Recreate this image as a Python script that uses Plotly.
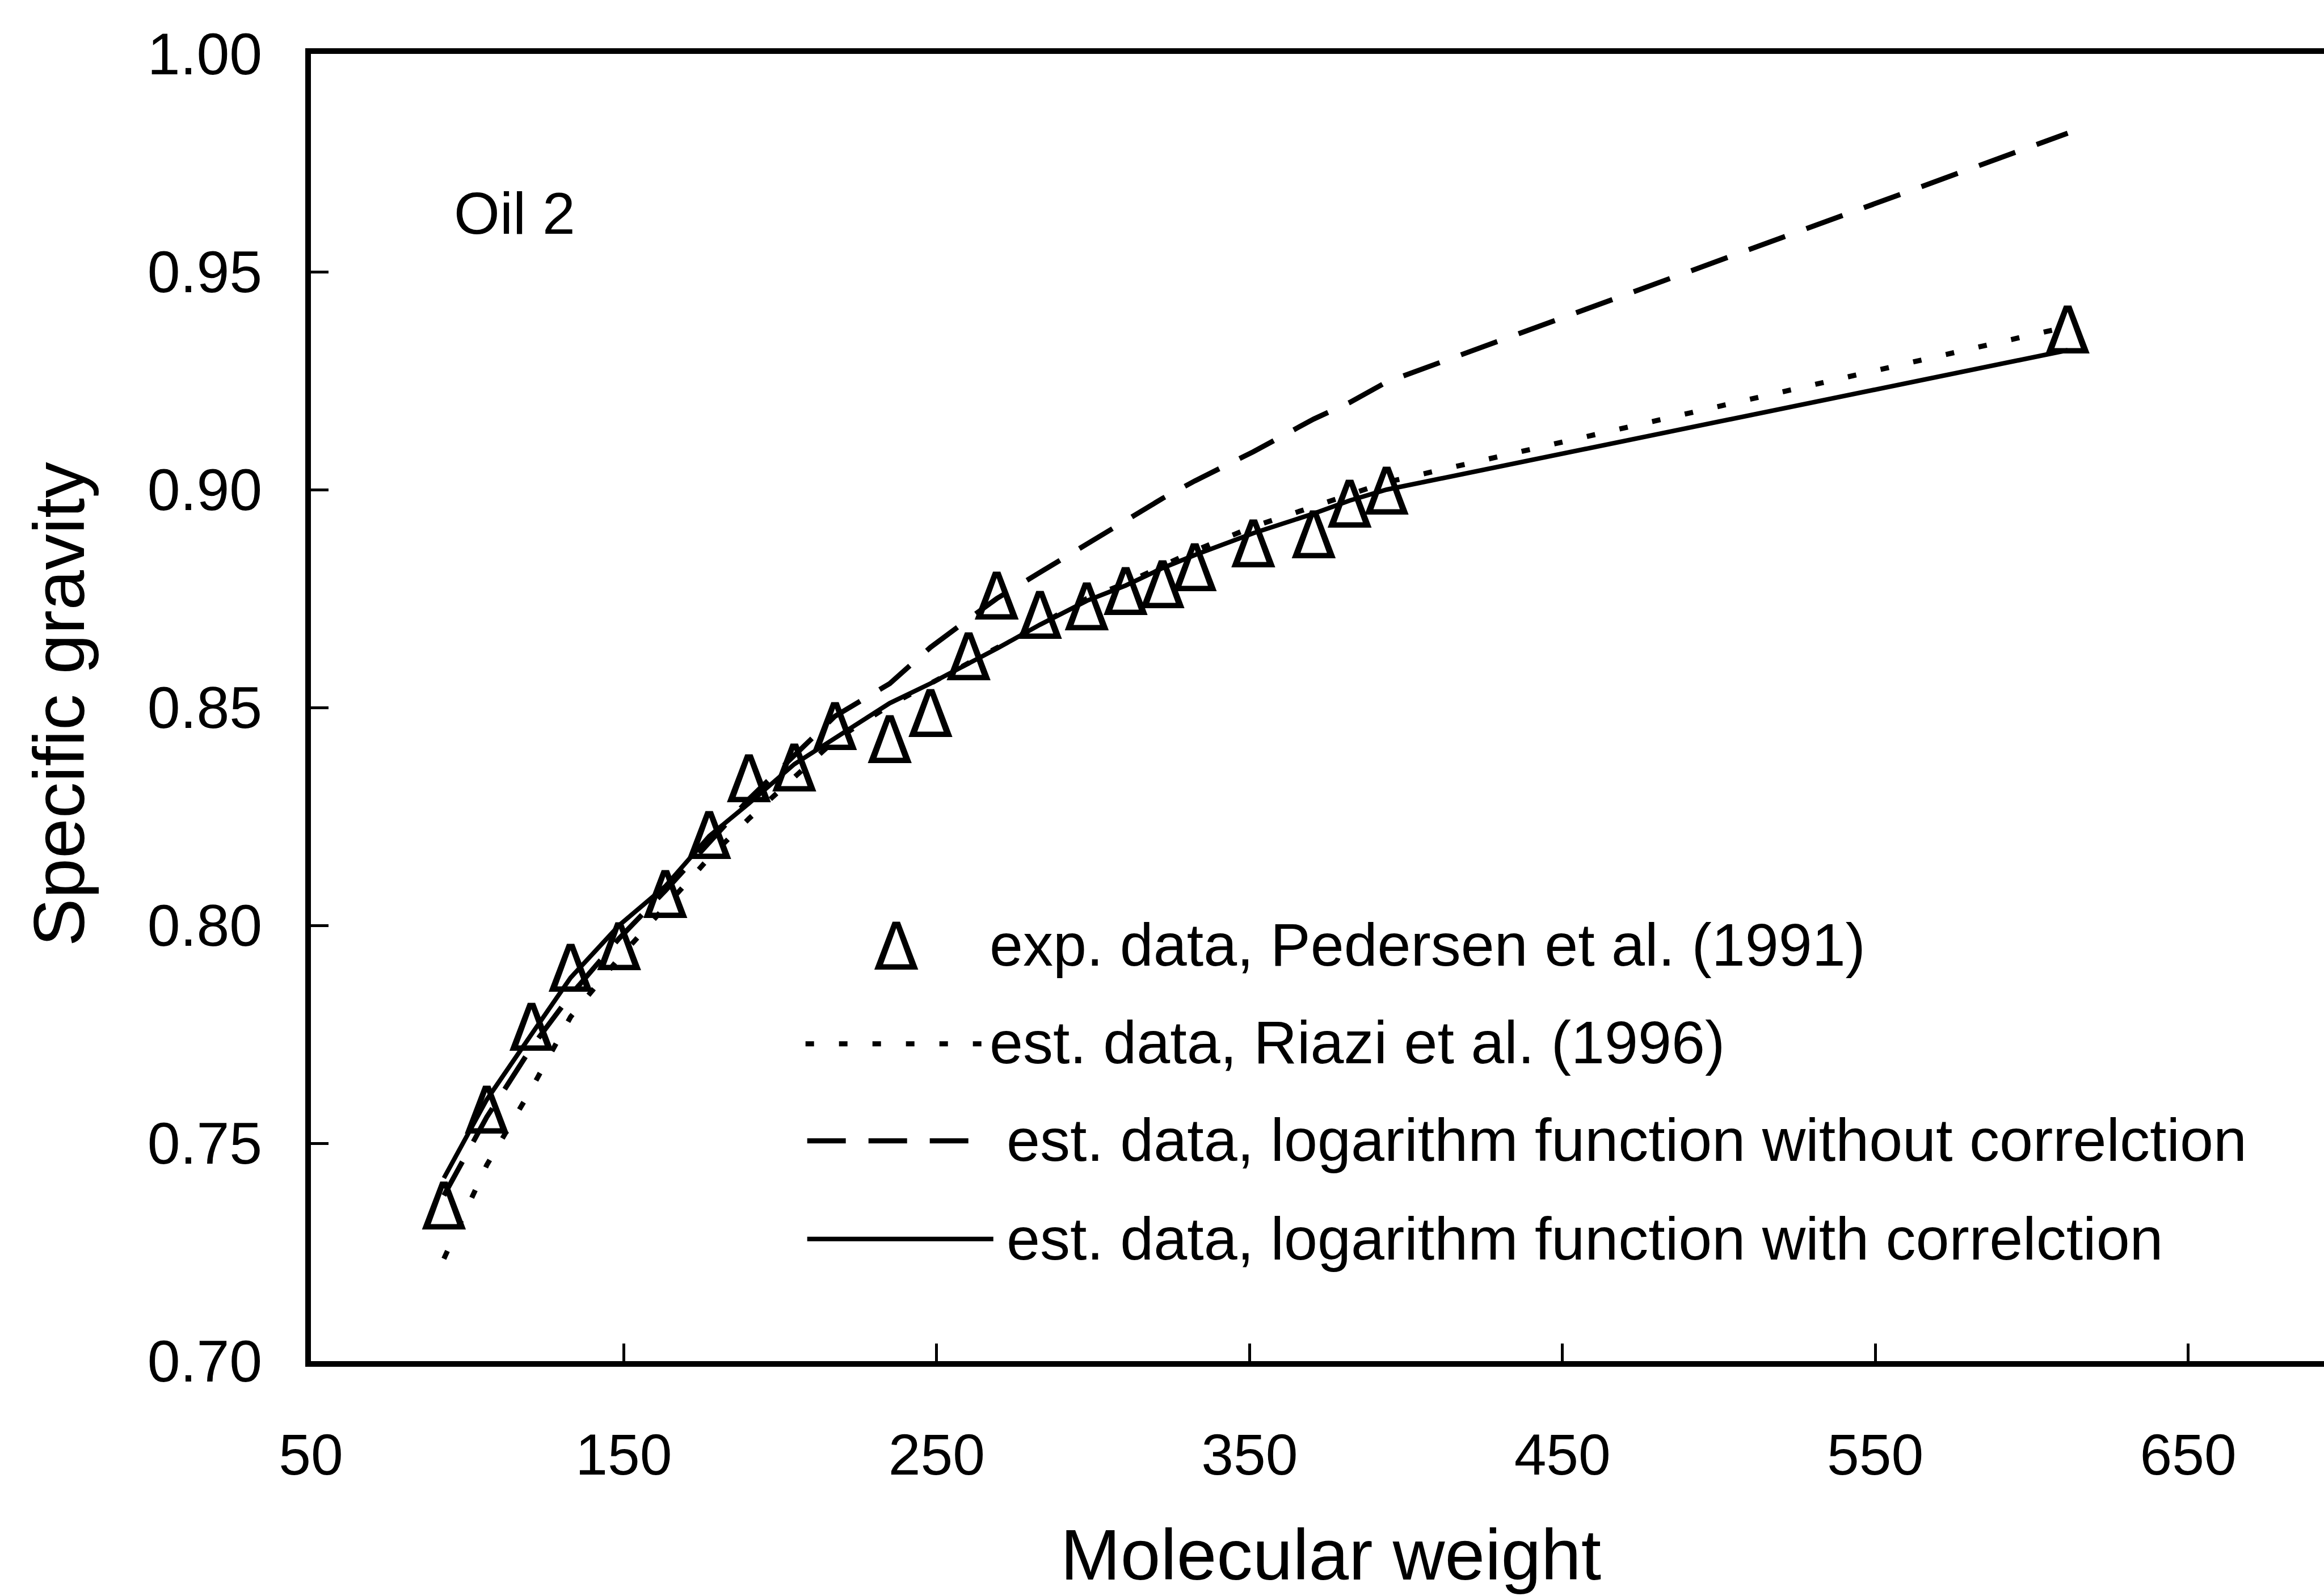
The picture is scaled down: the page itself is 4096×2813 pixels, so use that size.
import plotly.graph_objects as go

# ---------------- data ----------------
mol_weight = [92.5, 106.2, 120.5, 133.0, 148.5, 163.3, 177.3, 190.0, 204.5, 217.5,
              235.0, 248.0, 260.2, 269.2, 283.0, 298.0, 310.4, 322.2, 332.5, 351.2,
              370.5, 382.0, 393.8, 611.5]

sg_exp = [0.734, 0.756, 0.775, 0.7885, 0.7935, 0.8055, 0.819, 0.832, 0.8345, 0.844,
          0.841, 0.847, 0.860, 0.874, 0.8695, 0.8715, 0.875, 0.8765, 0.8805, 0.886,
          0.888, 0.895, 0.898, 0.935]

sg_riazi = [0.7235, 0.745, 0.7625, 0.779, 0.7925, 0.8045, 0.8155, 0.8245, 0.834, 0.8425,
            0.8505, 0.8555, 0.860, 0.8635, 0.869, 0.875, 0.8785, 0.8825, 0.886, 0.8915,
            0.8962, 0.899, 0.9017, 0.9374]

sg_log_no_corr = [0.738, 0.756, 0.772, 0.784, 0.797, 0.808, 0.819, 0.829, 0.839, 0.848,
                  0.8555, 0.8638, 0.8703, 0.875, 0.881, 0.8876, 0.893, 0.898, 0.902, 0.9087,
                  0.9162, 0.920, 0.9247, 0.9818]

sg_log_corr = [0.742, 0.760, 0.775, 0.788, 0.800, 0.809, 0.8205, 0.828, 0.837, 0.843,
               0.851, 0.8555, 0.860, 0.8635, 0.869, 0.8745, 0.878, 0.882, 0.885, 0.890,
               0.8945, 0.8975, 0.900, 0.932]

x_ticks = [50, 150, 250, 350, 450, 550, 650]
y_ticks = [0.70, 0.75, 0.80, 0.85, 0.90, 0.95, 1.00]

legend_labels = ["exp. data, Pedersen et al. (1991)",
                 "est. data, Riazi et al. (1996)",
                 "est. data, logarithm function without correlction",
                 "est. data, logarithm function with correlction"]

# ---------------- layout geometry ----------------
W, H = 4096, 2813
L, T, B = 548.4, 95.2, 2399.3
PX_PER_UNIT_X = 5.5137          # pixels per molecular-weight unit
X_MAX = 50 + (W - L) / PX_PER_UNIT_X   # plot runs off the right edge, as in the reference
FONT = "Liberation Sans, Arial, Helvetica, sans-serif"
MARKER_FONT = "DejaVu Sans, sans-serif"
MARKER_SIZE = 116

DOT = dict(color="black", width=9, dash="15px,44px")
DASH = dict(color="black", width=9, dash="68px,40px")
SOLID = dict(color="black", width=8)


def px(x):
    return (x - L) / (W - L)


def py(y):
    return (B - y) / (B - T)


fig = go.Figure()

fig.add_trace(go.Scatter(x=mol_weight, y=sg_riazi, mode="lines", line=DOT,
                         showlegend=False, hoverinfo="skip"))
fig.add_trace(go.Scatter(x=mol_weight, y=sg_log_no_corr, mode="lines", line=DASH,
                         showlegend=False, hoverinfo="skip"))
fig.add_trace(go.Scatter(x=mol_weight, y=sg_log_corr, mode="lines", line=SOLID,
                         showlegend=False, hoverinfo="skip"))
fig.add_trace(go.Scatter(x=mol_weight, y=sg_exp, mode="text",
                         text=["Δ"] * len(mol_weight), textposition="middle center",
                         textfont=dict(family=MARKER_FONT, size=MARKER_SIZE, color="black"),
                         showlegend=False, hoverinfo="skip"))

# ---------------- manual legend ----------------
shapes = []
annotations = []

annotations.append(dict(x=px(1580), y=py(1669), xref="paper", yref="paper", text="Δ",
                        showarrow=False, xanchor="center", yanchor="middle",
                        font=dict(family=MARKER_FONT, size=MARKER_SIZE, color="black")))
shapes.append(dict(type="line", xref="paper", yref="paper", x0=px(1420), x1=px(1735),
                   y0=py(1840), y1=py(1840), line=DOT))
shapes.append(dict(type="line", xref="paper", yref="paper", x0=px(1423), x1=px(1718),
                   y0=py(2011), y1=py(2011), line=DASH))
shapes.append(dict(type="line", xref="paper", yref="paper", x0=px(1423), x1=px(1751),
                   y0=py(2184), y1=py(2184), line=SOLID))

legend_pos = [(1742, 1665), (1742, 1837), (1772, 2009), (1772, 2183)]
for (lx, ly), lab in zip(legend_pos, legend_labels):
    annotations.append(dict(x=px(lx), y=py(ly), xref="paper", yref="paper", text=lab,
                            showarrow=False, xanchor="left", yanchor="middle",
                            font=dict(family=FONT, size=106, color="black")))

annotations.append(dict(x=px(798), y=py(376), xref="paper", yref="paper", text="Oil 2",
                        showarrow=False, xanchor="left", yanchor="middle",
                        font=dict(family=FONT, size=104, color="black")))
annotations.append(dict(x=px(2346), y=py(2740), xref="paper", yref="paper",
                        text="Molecular weight", showarrow=False,
                        xanchor="center", yanchor="middle",
                        font=dict(family=FONT, size=127, color="black")))
annotations.append(dict(x=px(104), y=py(1241), xref="paper", yref="paper",
                        text="Specific gravity", showarrow=False, textangle=-90,
                        xanchor="center", yanchor="middle",
                        font=dict(family=FONT, size=127, color="black")))

fig.update_layout(
    width=W, height=H,
    margin=dict(l=L, r=0, t=T, b=H - B, pad=0),
    paper_bgcolor="white", plot_bgcolor="white",
    template=None,
    showlegend=False,
    shapes=shapes,
    annotations=annotations,
    font=dict(family=FONT, color="black"),
)

fig.update_xaxes(
    range=[50, X_MAX],
    tickmode="array", tickvals=x_ticks, ticktext=[str(v) for v in x_ticks],
    ticks="inside", ticklen=31, tickwidth=5, tickcolor="black",
    showline=True, linewidth=10, linecolor="black", mirror=True,
    showgrid=False, zeroline=False,
    tickfont=dict(family=FONT, size=102, color="black"),
    ticklabelstandoff=68,
)
fig.update_yaxes(
    range=[0.70, 1.00],
    tickmode="array", tickvals=y_ticks, ticktext=[f"{v:.2f}" for v in y_ticks],
    ticks="inside", ticklen=31, tickwidth=5, tickcolor="black",
    showline=True, linewidth=10, linecolor="black", mirror=False,
    showgrid=False, zeroline=False,
    tickfont=dict(family=FONT, size=104, color="black"),
    ticklabelstandoff=55,
)

fig.write_html("out.html")
